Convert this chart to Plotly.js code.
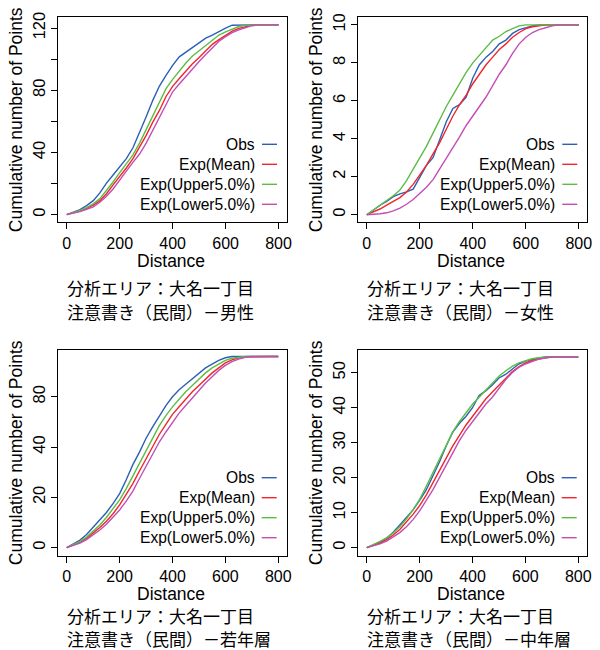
<!DOCTYPE html>
<html><head><meta charset="utf-8">
<script src="https://cdn.plot.ly/plotly-3.0.1.min.js"></script>
<style>body{margin:0;padding:0;background:#fff}#chart{width:600px;height:650px}</style>
</head><body><div id="chart"></div>
<script>
// Distance grid (m)
const distance = [0,25,50,75,100,125,150,175,200,225,250,275,300,325,350,375,400,425,450,475,500,525,550,575,600,625,650,675,700,725,750,775,800];
const seriesNames = ["Obs","Exp(Mean)","Exp(Upper5.0%)","Exp(Lower5.0%)"];
const seriesColors = ["#2d5fb4","#f0262b","#5cbd45","#c24fb5"];

// Panel 1: 男性
const p1Obs   = [0,1.5,3.3,5.8,9,14,20.3,25.5,31,36,43,52.5,63,73.5,82.7,89.5,96,101.5,104.5,108,111,113.5,115.5,118,120,121.8,122,122,122,122,122,122,122];
const p1Mean  = [0,1,2.4,4,6.2,9,13.5,19.2,24.5,30,36,43.5,51,59.5,67,76,82.5,87.5,92.5,97,101,105,109.5,112.5,115.5,118,119.8,121,121.8,122,122,122,122];
const p1Upper = [0,1.2,2.8,4.5,7,10.3,15.5,21,27,33,38.5,46,55,64,72.5,81,87,92.5,97.5,102,105.5,109,112.5,115.5,117.5,119.5,121,121.7,122,122,122,122,122];
const p1Lower = [0,0.8,2,3.5,5,8,11.8,16.5,22.5,28,33.6,39,46,54.5,63,71.5,79,84,89,94,98.5,103,107.5,111.5,114.5,117,118.8,120.2,121.5,122,122,122,122];
// Panel 2: 女性
const p2Obs   = [0,0.25,0.5,0.7,0.95,1.1,1.2,1.35,2.0,2.6,3.0,3.9,4.9,5.6,5.8,6.2,7.2,7.9,8.3,8.6,9.0,9.2,9.55,9.75,9.85,9.95,10,10,10,10,10,10,10];
const p2Mean  = [0,0.15,0.3,0.5,0.7,0.9,1.2,1.6,2.1,2.6,3.2,3.8,4.5,5.2,5.8,6.3,6.9,7.4,7.9,8.3,8.7,9.0,9.35,9.6,9.8,9.9,9.95,10,10,10,10,10,10];
const p2Upper = [0,0.25,0.5,0.75,1.0,1.3,1.8,2.4,3.0,3.6,4.3,5.0,5.7,6.3,6.9,7.5,8.0,8.4,8.85,9.2,9.4,9.65,9.8,9.95,10,10,10,10,10,10,10,10,10];
const p2Lower = [0,0.02,0.05,0.1,0.2,0.35,0.55,0.8,1.1,1.45,1.85,2.4,3.0,3.5,4.1,4.7,5.2,5.7,6.2,6.8,7.4,7.9,8.5,9.0,9.35,9.6,9.75,9.85,9.95,10,10,10,10];
// Panel 3: 若年層
const p3Obs   = [0,1.5,3,5.2,8,11,14,17.5,21.5,27,33,38,43.5,48,52.5,56.5,60,62.8,65,67.2,69.5,71.5,73,74.5,75.5,76,76,76,76,76,76,76,76];
const p3Mean  = [0,1,2.2,3.7,5.7,8,10.5,13.5,17,21,25.5,30.5,35.5,40.5,45,49,53,56,59,62,64.5,67,69.5,71.5,73.5,74.7,75.5,75.9,76,76,76,76,76];
const p3Upper = [0,1.2,2.5,4.2,6.5,9,12,15.5,19,23.5,28.5,33.5,38.5,44,48.5,52.5,56,59,62,64.5,67,69.5,71.5,73,74.5,75.3,75.8,76,76,76,76,76,76];
const p3Lower = [0,0.8,1.8,3.2,5,7,9.3,12,15,18.5,22.5,27.5,32.5,37.5,42,46,50,53.5,56.5,59.5,62.5,65.5,68,70.5,72.5,74,75,75.7,76,76,76,76,76];
// Panel 4: 中年層
const p4Obs   = [0,0.8,1.6,2.7,4.4,6.5,8.5,10.8,13.5,16.5,20.5,24.5,29,33,35.5,37.5,40,43.5,44.8,46.5,48.5,49.5,51,52.5,53.3,53.8,54.2,54.5,54.5,54.5,54.5,54.5,54.5];
const p4Mean  = [0,0.6,1.3,2.3,3.6,5.2,7.2,9.5,12,15,18.5,22,25.5,29,32,35,37.5,40,42.5,44.5,46.5,48.5,50.3,51.7,52.8,53.5,54,54.3,54.5,54.5,54.5,54.5,54.5];
const p4Upper = [0,0.8,1.8,2.8,4.2,6,8.2,10.8,13.8,17.5,21.5,25.5,29.5,33,36,38.5,41,43,45,47,49,50.5,51.8,52.8,53.5,54,54.3,54.5,54.5,54.5,54.5,54.5,54.5];
const p4Lower = [0,0.5,1.1,1.9,3,4.3,6,8,10.5,13.5,16.5,20,23.5,27,30.5,33.5,36,38.5,41,43,45.5,48,50,51.5,52.5,53.3,53.9,54.2,54.5,54.5,54.5,54.5,54.5];

const xTickVals = [0,200,400,600,800];
const p1TickVals = [0,20,40,60,80,100,120]; const p1TickText = ["0","","40","","80","","120"];
const p2TickVals = [0,2,4,6,8,10];           const p2TickText = ["0","2","4","6","8","10"];
const p3TickVals = [0,20,40,60];             const p3TickText = ["0","20","40","80"];
const p4TickVals = [0,10,20,30,40,50];       const p4TickText = ["0","10","20","30","40","50"];
const titleLine1 = "分析エリア：大名一丁目";
const titleLine2 = ["注意書き（民間）－男性","注意書き（民間）－女性","注意書き（民間）－若年層","注意書き（民間）－中年層"];
const xTitle = "Distance";
const yTitle = "Cumulative number of Points";

const panels = [
  {series:[p1Obs,p1Mean,p1Upper,p1Lower], tv:p1TickVals, tt:p1TickText, yr:[-4.9,126.9], box:[58.3,287,17.3,222.3], cap:[287,311]},
  {series:[p2Obs,p2Mean,p2Upper,p2Lower], tv:p2TickVals, tt:p2TickText, yr:[-0.4,10.4],  box:[358.3,587.3,17.3,222.3], cap:[287,311]},
  {series:[p3Obs,p3Mean,p3Upper,p3Lower], tv:p3TickVals, tt:p3TickText, yr:[-3.2,78.6],  box:[58.3,286.7,350,555.7], cap:[615.5,638.5]},
  {series:[p4Obs,p4Mean,p4Upper,p4Lower], tv:p4TickVals, tt:p4TickText, yr:[-2.3,56.5],  box:[358.3,586.7,350,555.7], cap:[615.5,638.5]}
];

const W=600,H=650;
const px=v=>v/W, py=v=>1-v/H;
const latin = "Liberation Sans, Arial, sans-serif";
const cjk = "Noto Sans CJK JP, sans-serif";

const traces=[]; const layout={width:W,height:H,margin:{l:0,r:0,t:0,b:0},paper_bgcolor:"#fff",plot_bgcolor:"#fff",showlegend:false,annotations:[],shapes:[]};

panels.forEach((p,i)=>{
  const n=i+1, xa='xaxis'+(n===1?'':n), ya='yaxis'+(n===1?'':n);
  const xr='x'+(n===1?'':n), yr='y'+(n===1?'':n);
  const [l,r,t,b]=p.box;
  layout[xa]={domain:[px(l),px(r)],anchor:yr,range:[-32,832],tickvals:xTickVals,ticks:'outside',ticklen:6,tickcolor:'#000',
    showline:true,mirror:true,linecolor:'#000',linewidth:1,showgrid:false,zeroline:false,
    tickfont:{family:latin,size:16,color:'#000'}};
  layout[ya]={domain:[py(b),py(t)],anchor:xr,range:p.yr,tickvals:p.tv,ticktext:p.tt,tickangle:-90,ticks:'outside',ticklen:6,tickcolor:'#000',
    showline:true,mirror:true,linecolor:'#000',linewidth:1,showgrid:false,zeroline:false,
    tickfont:{family:latin,size:16.5,color:'#000'},title:{text:yTitle,font:{family:latin,size:17.5,color:'#000'},standoff:2}};
  // x axis title
  layout.annotations.push({xref:'paper',yref:'paper',x:px((l+r)/2-1.5),y:py(b+38.5),xanchor:'center',yanchor:'middle',showarrow:false,
    text:xTitle,font:{family:latin,size:17.5,color:'#000'},borderpad:0});
  p.series.forEach((s,k)=>{
    traces.push({x:distance,y:s,xaxis:xr,yaxis:yr,type:'scatter',mode:'lines',name:seriesNames[k],
      line:{color:seriesColors[k],width:1.4},hoverinfo:'skip'});
  });
  // legend (text right, line sample to the right)
  seriesNames.forEach((nm,k)=>{
    const rowY=b-78+k*20;
    layout.annotations.push({xref:'paper',yref:'paper',x:px(r-30),y:py(rowY),xanchor:'right',yanchor:'middle',showarrow:false,
      text:nm,font:{family:latin,size:15.6,color:'#000'}});
    layout.shapes.push({type:'line',xref:'paper',yref:'paper',x0:px(r-25),x1:px(r-10),y0:py(rowY),y1:py(rowY),line:{color:seriesColors[k],width:1.4}});
  });
  // panel captions
  layout.annotations.push({xref:'paper',yref:'paper',x:px(l+8),y:py(p.cap[0]),xanchor:'left',yanchor:'middle',showarrow:false,align:'left',
    text:titleLine1,font:{family:cjk,size:17,color:'#000'},borderpad:0});
  layout.annotations.push({xref:'paper',yref:'paper',x:px(l+8),y:py(p.cap[1]),xanchor:'left',yanchor:'middle',showarrow:false,align:'left',
    text:titleLine2[i],font:{family:cjk,size:17,color:'#000'},borderpad:0});
});

Plotly.newPlot('chart',traces,layout,{staticPlot:true,displayModeBar:false});
</script></body></html>
